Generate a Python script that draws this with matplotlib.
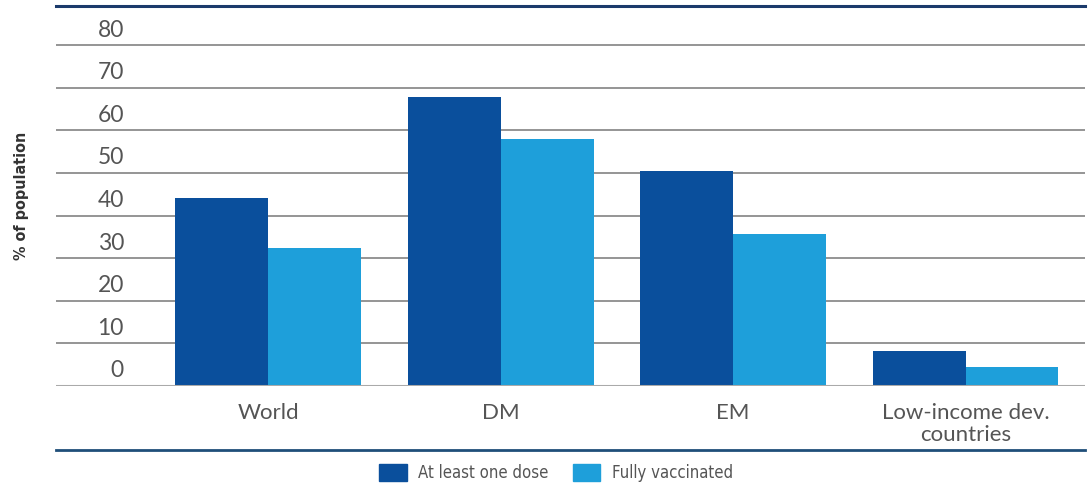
import matplotlib
matplotlib.use("Agg")
import matplotlib.pyplot as plt
import numpy as np
from matplotlib.lines import Line2D
from matplotlib.patches import Patch

categories = ["World", "DM", "EM", "Low-income dev.\ncountries"]
at_least_one = [44.1, 67.8, 50.5, 8.2]
fully_vacc = [32.4, 58.0, 35.7, 4.5]
yticks = [0, 10, 20, 30, 40, 50, 60, 70, 80]

dark = "#0a4f9c"
light = "#1e9fda"
navy = "#1b3a6b"
cond = ["DejaVu Sans"]

fig = plt.figure(figsize=(10.88, 4.91), dpi=100)
ax = fig.add_axes([56 / 1088, 1 - 386 / 491, 1029 / 1088, 380 / 491])

x = np.arange(len(categories))
w = 0.4
ax.bar(x - w / 2, at_least_one, w, color=dark, zorder=3)
ax.bar(x + w / 2, fully_vacc, w, color=light, zorder=3)

ax.set_xlim(-0.912, 3.514)
ax.set_ylim(0, 89.2)

# gridlines + labels sitting above them
for v in yticks[1:]:
    ax.axhline(v, color="#8c8c8c", lw=1.3, zorder=1)
for v in yticks:
    ax.text(0.066, v + 1.1, str(v), transform=ax.get_yaxis_transform(),
            ha="right", va="bottom", fontsize=16.5, color="#555555",
            family=["Lato", "DejaVu Sans"])
ax.axhline(0, color="#aaaaaa", lw=2.2, zorder=4)

for s in ax.spines.values():
    s.set_visible(False)
ax.spines["top"].set_visible(True)
ax.spines["top"].set_color(navy)
ax.spines["top"].set_linewidth(2.2)

ax.set_yticks([])
ax.set_xticks(x)
ax.set_xticklabels(categories, fontsize=16, color="#555555",
                   family=["Lato", "DejaVu Sans"], linespacing=1.15)
ax.tick_params(axis="x", length=0, pad=12)

fig.text(22 / 1088, 1 - 196 / 491, "% of population", rotation=90,
         ha="center", va="center", fontsize=11.5, fontweight="bold",
         fontstretch="condensed", color="#333333", family=cond)

# bottom rule
fig.add_artist(Line2D([56 / 1088, 1085 / 1088], [1 - 450 / 491] * 2,
                      color="#1f4e79", lw=2, transform=fig.transFigure))

handles = [Patch(color=dark), Patch(color=light)]
leg = fig.legend(handles, ["At least one dose", "Fully vaccinated"],
                 loc="center", bbox_to_anchor=(556 / 1088, 1 - 473 / 491),
                 ncol=2, frameon=False, handlelength=1.65, handleheight=1.2,
                 handletextpad=0.7, columnspacing=1.45,
                 prop={"family": cond, "size": 12, "stretch": "condensed"})
for t in leg.get_texts():
    t.set_color("#555555")

fig.savefig("out.png", dpi=100)
